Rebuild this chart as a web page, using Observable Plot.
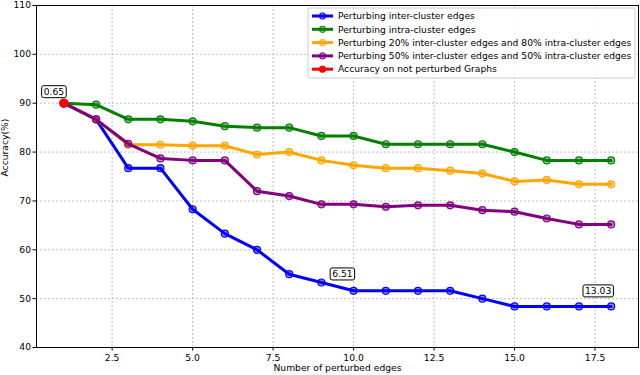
<!DOCTYPE html>
<html>
<head>
<meta charset="utf-8">
<script src="https://cdn.jsdelivr.net/npm/d3@7"></script>
<script src="https://cdn.jsdelivr.net/npm/@observablehq/plot@0.6"></script>
<style>
  html, body { margin: 0; padding: 0; background: white; }
  #chart { width: 640px; height: 375px; }
</style>
</head>
<body>
<div id="chart"></div>
<script>
const edges = [1, 2, 3, 4, 5, 6, 7, 8, 9, 10, 11, 12, 13, 14, 15, 16, 17, 18];
const interCluster = [90, 86.7, 76.7, 76.7, 68.3, 63.3, 60.0, 55.0, 53.3, 51.6, 51.6, 51.6, 51.6, 50.0, 48.4, 48.4, 48.4, 48.4];
const intraCluster = [90, 89.7, 86.7, 86.7, 86.3, 85.3, 85.0, 85.0, 83.3, 83.3, 81.6, 81.6, 81.6, 81.6, 80.0, 78.3, 78.3, 78.3];
const mix20_80 = [90, 86.7, 81.5, 81.5, 81.3, 81.3, 79.5, 80.0, 78.3, 77.3, 76.7, 76.7, 76.2, 75.6, 74.0, 74.3, 73.4, 73.4];
const mix50_50 = [90, 86.7, 81.7, 78.7, 78.3, 78.3, 72.0, 71.0, 69.3, 69.3, 68.8, 69.1, 69.1, 68.1, 67.8, 66.4, 65.2, 65.2];
const baselineX = [1];
const baselineY = [90];

const seriesNames = [
  "Perturbing inter-cluster edges",
  "Perturbing intra-cluster edges",
  "Perturbing 20% inter-cluster edges and 80% intra-cluster edges",
  "Perturbing 50% inter-cluster edges and 50% intra-cluster edges",
  "Accuracy on not perturbed Graphs"
];
const seriesColors = ["#0000ff", "#008000", "#ffa500", "#800080", "#ff0000"];

const xTicks = [2.5, 5.0, 7.5, 10.0, 12.5, 15.0, 17.5];
const yTicks = [40, 50, 60, 70, 80, 90, 100, 110];

const annoLabels = ["0.65", "6.51", "13.03"];
const annoX = [1, 9, 18];
const annoY = [90, 53.3, 48.4];
const annoDx = [-10, 21, -13];
const annoDy = [-11, -8, -15];

const lineSeries = [interCluster, intraCluster, mix20_80, mix50_50];
const rows = lineSeries.flatMap((vals, si) =>
  vals.map((v, i) => ({ x: edges[i], y: v, s: seriesNames[si] })));
const baseRows = baselineX.map((x, i) => ({ x, y: baselineY[i], c: seriesColors[4] }));
const annoRows = annoLabels.map((t, i) => ({ t, x: annoX[i], y: annoY[i], dx: annoDx[i], dy: annoDy[i] }));

const font = "DejaVu Sans, sans-serif";
const fs = 9.2;

const marks = [
  Plot.gridX(xTicks, { stroke: "#b0b0b0", strokeOpacity: 0.8, strokeDasharray: "2,2" }),
  Plot.gridY(yTicks, { stroke: "#b0b0b0", strokeOpacity: 0.8, strokeDasharray: "2,2" }),
];
lineSeries.forEach((vals, si) => {
  const d = rows.filter(r => r.s === seriesNames[si]);
  marks.push(Plot.line(d, { x: "x", y: "y", stroke: seriesColors[si], strokeWidth: 3 }));
  marks.push(Plot.dot(d, { x: "x", y: "y", r: 3.5, fill: seriesColors[si], fillOpacity: 0.45, stroke: seriesColors[si], strokeWidth: 1.2 }));
});
marks.push(Plot.dot(baseRows, { x: "x", y: "y", r: 4, fill: "c", stroke: "c" }));
annoRows.forEach(a => {
  marks.push(Plot.text([a], { x: "x", y: "y", text: "t", dx: a.dx, dy: a.dy, fontSize: fs, fill: "black" }));
});
marks.push(Plot.axisX(xTicks, { tickFormat: d => d.toFixed(1), tickSize: 3.5, tickPadding: 3.5, label: null, fontSize: fs }));
marks.push(Plot.axisY(yTicks, { tickSize: 3.5, tickPadding: 2, label: null, fontSize: fs }));
marks.push(Plot.frame({ stroke: "black", strokeWidth: 1 }));
marks.push(Plot.text(["Number of perturbed edges"], { frameAnchor: "bottom", dy: 23.5, fontSize: fs, fill: "black" }));
marks.push(Plot.text(["Accuracy(%)"], { frameAnchor: "left", dx: -31, rotate: -90, fontSize: fs, fill: "black" }));

const plot = Plot.plot({
  width: 640,
  height: 375,
  marginLeft: 36,
  marginRight: 2,
  marginTop: 5,
  marginBottom: 28,
  style: { fontFamily: font, fontSize: fs + "px", background: "white", color: "black", overflow: "visible" },
  x: { domain: [0.15, 18.85] },
  y: { domain: [40, 110] },
  marks
});
document.getElementById("chart").appendChild(plot);

const svg = d3.select(plot);

// boxes around annotation text
svg.selectAll("text").filter(function () { return annoLabels.includes(this.textContent); }).each(function () {
  const bb = this.getBBox();
  d3.select(this.parentNode).insert("rect", () => this)
    .attr("transform", this.getAttribute("transform"))
    .attr("x", bb.x - 2).attr("y", bb.y - 0.5)
    .attr("width", bb.width + 4).attr("height", bb.height + 1)
    .attr("rx", 2).attr("fill", "white").attr("stroke", "black").attr("stroke-width", 1);
});

// legend
const leg = svg.append("g").attr("font-family", font).attr("font-size", fs).attr("text-anchor", "start");
const lx = 308, ly = 8, rowH = 13.3;
leg.append("rect").attr("x", lx).attr("y", ly).attr("height", 70).attr("width", 327)
  .attr("rx", 2).attr("fill", "white").attr("fill-opacity", 0.85).attr("stroke", "#cccccc");
seriesNames.forEach((name, i) => {
  const cy = ly + 8 + i * rowH;
  leg.append("line").attr("x1", lx + 4).attr("x2", lx + 25).attr("y1", cy).attr("y2", cy)
    .attr("stroke", seriesColors[i]).attr("stroke-width", 3);
  leg.append("circle").attr("cx", lx + 14.5).attr("cy", cy).attr("r", 3.2)
    .attr("fill", seriesColors[i]).attr("fill-opacity", i === 4 ? 1 : 0.45).attr("stroke", seriesColors[i]);
  leg.append("text").attr("x", lx + 30).attr("y", cy).attr("dy", "0.35em").attr("fill", "black").text(name);
});
</script>
</body>
</html>
